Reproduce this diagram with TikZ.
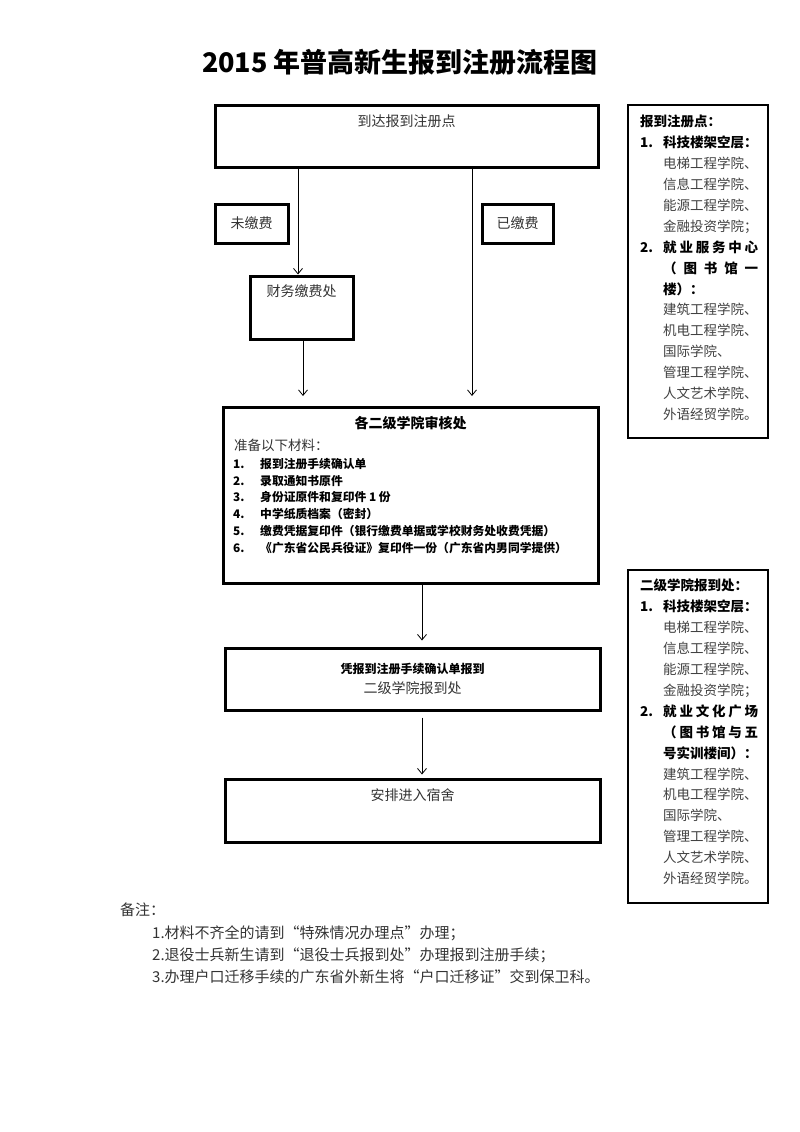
\documentclass[tikz,border=0pt]{standalone}
\usepackage{fontspec}
\setmainfont{Noto Sans CJK SC}
\usetikzlibrary{arrows.meta,positioning}

\newcommand{\pxsize}[2]{\fontsize{#1}{#2}\selectfont}
\newcommand{\hd}[1]{{\bfseries\color{black}#1}}
\newcommand{\cq}[1]{\makebox[15pt][r]{“}#1\makebox[15pt][l]{”}}

\begin{document}
\begin{tikzpicture}[
  x=1pt, y=-1pt,
  >={Straight Barb[length=5.5pt,width=9pt]},
  stepbox/.style={draw, line width=3pt, inner sep=0pt, font=\pxsize{14}{17}, text=black!80},
  inlabel/.style={anchor=center, inner sep=0pt, font=\pxsize{14}{17}, text=black!80},
  sidebox/.style={draw, line width=1.2pt, inner sep=0pt, minimum width=140pt, minimum height=333pt},
  sidetext/.style={anchor=north west, inner sep=0pt, align=left, font=\pxsize{13.5}{20.9}, text=black!75},
  flow/.style={->, line width=0.8pt}
]
\useasboundingbox (0,0) rectangle (800,1132);

% Title
\node[font=\bfseries\pxsize{27}{30}] (title) at (400,62) {2015 年普高新生报到注册流程图};

% Main steps
\node[stepbox, minimum width=383pt, minimum height=62pt,
  label={[inlabel, yshift=-18pt]north:到达报到注册点}] (arrive) at (406.5,136) {};
\node[stepbox, minimum width=73pt, minimum height=39pt] (unpaid) at (251.5,223.5) {未缴费};
\node[stepbox, minimum width=71pt, minimum height=39pt] (paid) at (517.5,223.5) {已缴费};
\node[stepbox, minimum width=103pt, minimum height=63pt,
  label={[inlabel, yshift=-17pt]north:财务缴费处}] (cashier) at (301.5,307.5) {};

\node[stepbox, minimum width=375pt, minimum height=176pt,
  label={[inlabel, yshift=-18pt, font=\bfseries\pxsize{14}{17}, text=black]north:各二级学院审核处}] (review) at (410.5,495) {};
\node[anchor=west, inner sep=0pt, font=\pxsize{13.5}{16}, text=black!80] (prepare) at (234,445) {准备以下材料：};
\node[anchor=north west, inner sep=0pt, align=left, font=\bfseries\pxsize{11.8}{16.8}] (papers) at (233,458) {%
  \makebox[27pt][l]{1.}报到注册手续确认单\\
  \makebox[27pt][l]{2.}录取通知书原件\\
  \makebox[27pt][l]{3.}身份证原件和复印件 1 份\\
  \makebox[27pt][l]{4.}中学纸质档案（密封）\\
  \makebox[27pt][l]{5.}缴费凭据复印件（银行缴费单据或学校财务处收费凭据）\\
  \makebox[27pt][l]{6.}《广东省公民兵役证》复印件一份（广东省内男同学提供）};

\node[stepbox, minimum width=375pt, minimum height=62pt, align=center, font=\pxsize{14}{20}] (confirm) at (412.5,679)
  {\hd{\pxsize{12}{20}凭报到注册手续确认单报到}\\二级学院报到处};
\node[stepbox, minimum width=375pt, minimum height=63pt,
  label={[inlabel, yshift=-18pt]north:安排进入宿舍}] (dorm) at (412.5,810.5) {};

% Connectors
\draw[flow] ([xshift=-3.5pt]cashier.north |- arrive.south) -- ([xshift=-3.5pt]cashier.north);
\draw[flow, shorten >=9.5pt] ([xshift=65.5pt]arrive.south) -- ([xshift=65.5pt]arrive.south |- review.north);
\draw[flow, shorten >=9.5pt] ([xshift=1.5pt]cashier.south) -- ([xshift=1.5pt]cashier.south |- review.north);
\draw[flow, shorten >=6pt] ([xshift=11.5pt]review.south) -- ([xshift=11.5pt]review.south |- confirm.north);
\draw[flow, shorten <=6pt, shorten >=3pt] ([xshift=9.5pt]confirm.south) -- ([xshift=9.5pt]confirm.south |- dorm.north);

% Side notes
\node[sidebox] (spots) at (698,271.5) {};
\node[sidetext] (spotslist) at (640,115) {%
  \hd{报到注册点：}\\
  \hd{\makebox[23pt][l]{1.}科技楼架空层：}\\
  \hspace*{23pt}电梯工程学院、\\
  \hspace*{23pt}信息工程学院、\\
  \hspace*{23pt}能源工程学院、\\
  \hspace*{23pt}金融投资学院；\\
  \hd{\makebox[23pt][l]{2.}\makebox[95pt][s]{就 业 服 务 中 心}}\\
  \hspace*{23pt}\hd{\makebox[95pt][s]{（ 图 书 馆 一}}\\
  \hspace*{23pt}\hd{楼）：}\\
  \hspace*{23pt}建筑工程学院、\\
  \hspace*{23pt}机电工程学院、\\
  \hspace*{23pt}国际学院、\\
  \hspace*{23pt}管理工程学院、\\
  \hspace*{23pt}人文艺术学院、\\
  \hspace*{23pt}外语经贸学院。};

\node[sidebox] (desks) at (698,736.5) {};
\node[sidetext] (deskslist) at (640,579) {%
  \hd{二级学院报到处：}\\
  \hd{\makebox[23pt][l]{1.}科技楼架空层：}\\
  \hspace*{23pt}电梯工程学院、\\
  \hspace*{23pt}信息工程学院、\\
  \hspace*{23pt}能源工程学院、\\
  \hspace*{23pt}金融投资学院；\\
  \hd{\makebox[23pt][l]{2.}\makebox[95pt][s]{就 业 文 化 广 场}}\\
  \hspace*{23pt}\hd{\makebox[95pt][s]{（ 图 书 馆 与 五}}\\
  \hspace*{23pt}\hd{号实训楼间）：}\\
  \hspace*{23pt}建筑工程学院、\\
  \hspace*{23pt}机电工程学院、\\
  \hspace*{23pt}国际学院、\\
  \hspace*{23pt}管理工程学院、\\
  \hspace*{23pt}人文艺术学院、\\
  \hspace*{23pt}外语经贸学院。};

% Remarks
\node[anchor=west, inner sep=0pt, font=\pxsize{15}{18}, text=black!80] (remark) at (120,910) {备注：};
\node[anchor=north west, inner sep=0pt, align=left, font=\pxsize{15}{22}, text=black!80] (remarklist) at (152,925.5) {%
  1.材料不齐全的请到\cq{特殊情况办理点}办理；\\
  2.退役士兵新生请到\cq{退役士兵报到处}办理报到注册手续；\\
  3.办理户口迁移手续的广东省外新生将\cq{户口迁移证}交到保卫科。};
\end{tikzpicture}
\end{document}
